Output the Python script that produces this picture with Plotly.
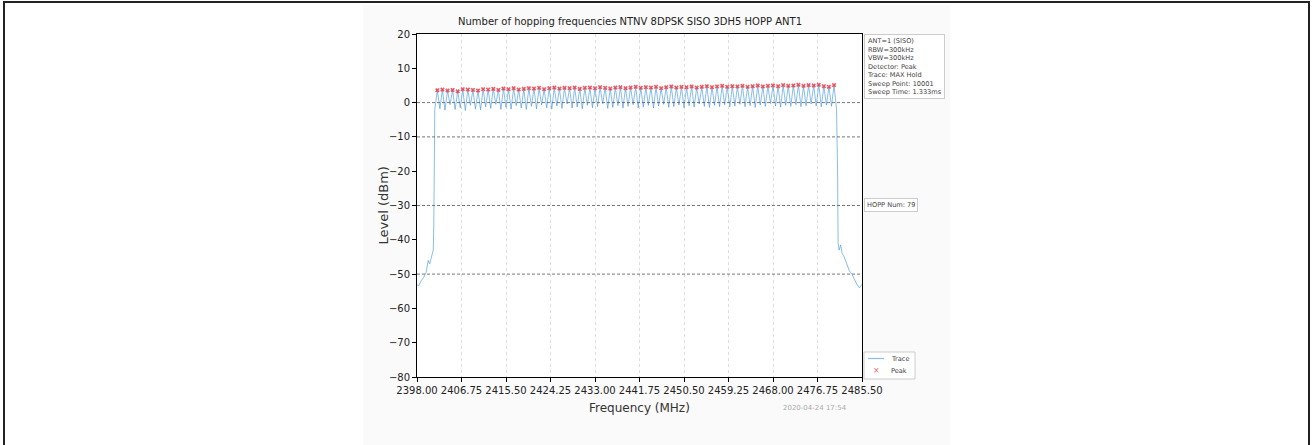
import plotly.graph_objects as go

# ---------------- data ----------------
TITLE = "Number of hopping frequencies NTNV 8DPSK SISO 3DH5 HOPP ANT1"

channel_mhz = [2402, 2403, 2404, 2405, 2406, 2407, 2408, 2409, 2410, 2411,
               2412, 2413, 2414, 2415, 2416, 2417, 2418, 2419, 2420, 2421,
               2422, 2423, 2424, 2425, 2426, 2427, 2428, 2429, 2430, 2431,
               2432, 2433, 2434, 2435, 2436, 2437, 2438, 2439, 2440, 2441,
               2442, 2443, 2444, 2445, 2446, 2447, 2448, 2449, 2450, 2451,
               2452, 2453, 2454, 2455, 2456, 2457, 2458, 2459, 2460, 2461,
               2462, 2463, 2464, 2465, 2466, 2467, 2468, 2469, 2470, 2471,
               2472, 2473, 2474, 2475, 2476, 2477, 2478, 2479, 2480]

peak_dbm = [3.6, 3.8, 3.5, 3.7, 3.3, 3.9, 3.8, 3.7, 3.5, 3.9,
            3.8, 4.0, 3.7, 4.1, 3.9, 4.2, 3.8, 4.0, 4.2, 4.1,
            4.3, 3.9, 4.2, 4.4, 4.1, 4.3, 4.2, 4.4, 4.0, 4.3,
            4.4, 4.2, 4.5, 4.3, 4.1, 4.4, 4.5, 4.2, 4.4, 4.6,
            4.3, 4.5, 4.4, 4.6, 4.2, 4.5, 4.7, 4.4, 4.6, 4.5,
            4.7, 4.4, 4.6, 4.8, 4.5, 4.7, 4.9, 4.6, 4.8, 4.7,
            4.9, 4.6, 4.8, 5.0, 4.7, 4.9, 5.0, 4.8, 5.1, 4.9,
            5.0, 5.2, 4.9, 5.1, 5.0, 5.2, 4.8, 4.6, 5.1]

# level of the trace between neighbouring channels
trough_dbm = [-1.8, -2.2, -0.6, -2.0, -1.5, -2.3, -0.8, -1.9, -2.1, -1.2,
              -1.7, -0.5, -2.0, -1.4, -1.9, -0.9, -1.6, -2.0, -1.1, -1.8,
              -0.7, -1.5, -1.9, -1.0, -1.7, -0.4, -1.6, -1.3, -1.8, -0.8,
              -1.5, -1.2, -0.3, -1.7, -1.4, -0.9, -1.6, -1.1, -0.6, -1.5,
              -1.3, -0.8, -1.6, -1.0, -0.5, -1.4, -1.2, -0.7, -1.5, -0.9,
              -1.3, -0.4, -1.1, -1.4, -0.8, -1.2, -0.6, -1.3, -1.0, -0.5,
              -1.2, -0.9, -1.4, -0.7, -1.1, -0.3, -1.0, -1.3, -0.8, -1.1,
              -0.6, -1.2, -0.9, -0.4, -1.0, -1.2, -0.7, -1.1]

# band edges of the sweep
left_edge_mhz = [2398.0, 2398.3, 2398.8, 2399.3, 2399.8, 2400.2, 2400.5, 2400.8,
                 2401.0, 2401.2, 2401.3, 2401.4, 2401.5]
left_edge_dbm = [-53.0, -53.5, -52.0, -51.0, -49.5, -46.0, -47.0, -45.0,
                 -44.5, -43.0, -36.0, -20.0, -2.0]
right_edge_mhz = [2480.5, 2480.7, 2480.8, 2481.0, 2481.3, 2481.6, 2482.0, 2482.5,
                  2483.0, 2483.5, 2484.0, 2484.5, 2485.0, 2485.5]
right_edge_dbm = [-2.0, -20.0, -41.0, -43.0, -41.5, -44.0, -45.0, -47.0,
                  -49.0, -50.0, -51.5, -53.0, -54.0, -53.0]

x_tick_vals = [2398.00, 2406.75, 2415.50, 2424.25, 2433.00, 2441.75,
               2450.50, 2459.25, 2468.00, 2476.75, 2485.50]
x_tick_text = ["2398.00", "2406.75", "2415.50", "2424.25", "2433.00", "2441.75",
               "2450.50", "2459.25", "2468.00", "2476.75", "2485.50"]
y_tick_vals = [20, 10, 0, -10, -20, -30, -40, -50, -60, -70, -80]

limit_lines_dbm = [0, -10, -30, -50]

info_lines = ["ANT=1 (SISO)", "RBW=300kHz", "VBW=300kHz", "Detector: Peak",
              "Trace: MAX Hold", "Sweep Point: 10001", "Sweep Time: 1.333ms"]
hopp_label = "HOPP Num: 79"
timestamp = "2020-04-24 17:54"
legend_labels = ["Trace", "Peak"]

TRACE_COLOR = "rgba(60,145,220,0.6)"
PEAK_COLOR = "rgba(240,60,70,0.85)"

# ---------------- build trace ----------------
trace_x = list(left_edge_mhz)
trace_y = list(left_edge_dbm)
for i, (f, p) in enumerate(zip(channel_mhz, peak_dbm)):
    trace_x.append(f)
    trace_y.append(p)
    if i < len(trough_dbm):
        trace_x.append((f + channel_mhz[i + 1]) / 2)
        trace_y.append(trough_dbm[i])
trace_x += right_edge_mhz
trace_y += right_edge_dbm

# ---------------- layout geometry (pixels) ----------------
W, H = 1314, 445
L, R, T, B = 417, 862, 34, 377


def px(x):
    return (x - L) / (R - L)


def py(y):
    return (B - y) / (B - T)


FONT = "DejaVu Sans"

fig = go.Figure()
fig.add_trace(go.Scatter(x=trace_x, y=trace_y, mode="lines", name=legend_labels[0],
                         line=dict(color=TRACE_COLOR, width=1)))
fig.add_trace(go.Scatter(x=channel_mhz, y=peak_dbm, mode="markers", name=legend_labels[1],
                         marker=dict(symbol="x", size=4, color=PEAK_COLOR,
                                     line=dict(width=0))))

shapes = [
    # outer frame of the page
    dict(type="rect", xref="paper", yref="paper", x0=px(4), x1=px(1309),
         y0=py(470), y1=py(2), line=dict(color="#222", width=2), layer="below"),
    # figure panel
    dict(type="rect", xref="paper", yref="paper", x0=px(363), x1=px(950),
         y0=py(470), y1=py(5), fillcolor="#fafafa", line=dict(width=0), layer="below"),
    dict(type="rect", xref="paper", yref="paper", x0=0, x1=1, y0=0, y1=1,
         fillcolor="white", line=dict(width=0), layer="below"),
    # legend box
    dict(type="rect", xref="paper", yref="paper", x0=px(864), x1=px(915),
         y0=py(379), y1=py(352), fillcolor="white", line=dict(color="#ccc", width=1)),
    dict(type="line", xref="paper", yref="paper", x0=px(868), x1=px(884),
         y0=py(358.5), y1=py(358.5), line=dict(color=TRACE_COLOR, width=1.2)),
]
for v in limit_lines_dbm:
    shapes.append(dict(type="line", xref="paper", yref="y", x0=0, x1=1, y0=v, y1=v,
                       line=dict(color="#555", width=0.8, dash="3px,2px")))

annotations = [
    dict(text=TITLE, xref="paper", yref="paper", x=px(630), y=py(21), showarrow=False,
         font=dict(family=FONT, size=10, color="#222"), xanchor="center", yanchor="middle"),
    dict(text="Level (dBm)", xref="paper", yref="paper", x=px(383), y=0.5, showarrow=False,
         textangle=-90, font=dict(family=FONT, size=13, color="#333"),
         xanchor="center", yanchor="middle"),
    dict(text="Frequency (MHz)", xref="paper", yref="paper", x=0.5, y=py(408),
         showarrow=False, font=dict(family=FONT, size=12, color="#333"),
         xanchor="center", yanchor="middle"),
    dict(text=timestamp, xref="paper", yref="paper", x=px(849), y=py(408),
         showarrow=False, font=dict(family=FONT, size=7, color="#aaa"),
         xanchor="right", yanchor="middle"),
    dict(text="<br>".join(info_lines), xref="paper", yref="paper", x=px(864), y=py(34),
         showarrow=False, align="left", xanchor="left", yanchor="top",
         font=dict(family=FONT, size=6.6, color="#444"), bgcolor="white",
         bordercolor="#ccc", borderwidth=1, borderpad=2),
    dict(text=hopp_label, xref="paper", yref="paper", x=px(864), y=py(205),
         showarrow=False, align="left", xanchor="left", yanchor="middle",
         font=dict(family=FONT, size=6.6, color="#444"), bgcolor="white",
         bordercolor="#ccc", borderwidth=1, borderpad=2),
    # legend entries
    dict(text="×", xref="paper", yref="paper", x=px(876), y=py(370.5), showarrow=False,
         font=dict(family=FONT, size=8, color=PEAK_COLOR), xanchor="center", yanchor="middle"),
    dict(text=legend_labels[0], xref="paper", yref="paper", x=px(889), y=py(358.5),
         showarrow=False, font=dict(family=FONT, size=6.6, color="#444"),
         xanchor="left", yanchor="middle"),
    dict(text=legend_labels[1], xref="paper", yref="paper", x=px(889), y=py(370.5),
         showarrow=False, font=dict(family=FONT, size=6.6, color="#444"),
         xanchor="left", yanchor="middle"),
]

fig.update_layout(
    width=W, height=H,
    margin=dict(l=L, r=W - R, t=T, b=H - B, pad=0),
    paper_bgcolor="white", plot_bgcolor="white",
    font=dict(family=FONT, size=10, color="#222"),
    shapes=shapes, annotations=annotations,
    showlegend=False,
)
fig.update_xaxes(range=[2398, 2485.5], tickvals=x_tick_vals, ticktext=x_tick_text,
                 showgrid=True, gridcolor="#ddd", griddash="dot", gridwidth=1,
                 showline=True, linecolor="black", linewidth=1, mirror=True,
                 ticks="outside", ticklen=4, tickcolor="black", zeroline=False,
                 tickfont=dict(family=FONT, size=10, color="#222"))
fig.update_yaxes(range=[-80, 20], tickvals=y_tick_vals, showgrid=False,
                 showline=True, linecolor="black", linewidth=1, mirror=True,
                 ticks="outside", ticklen=4, tickcolor="black", zeroline=False,
                 tickfont=dict(family=FONT, size=10, color="#222"))

fig.write_html("out.html",
               config={"displayModeBar": False},
               post_script="document.body.style.margin='0';"
                           "document.body.style.overflow='hidden';")
